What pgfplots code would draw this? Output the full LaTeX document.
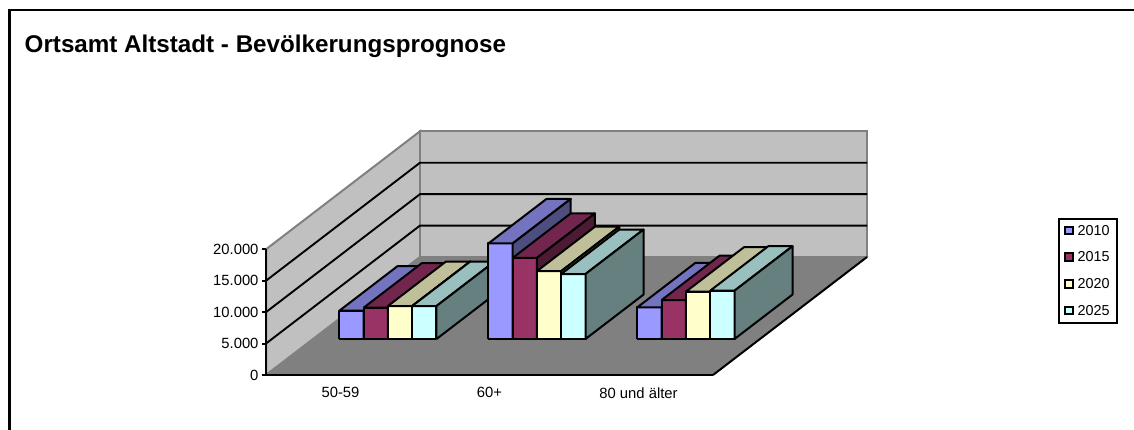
\documentclass[border=0pt]{standalone}
\usepackage{pgfplots}
\pgfplotsset{compat=1.18}
\usepackage{fontspec}
\setmainfont{Liberation Sans}
\definecolor{fA}{HTML}{9999FF}\definecolor{tA}{HTML}{7373BF}\definecolor{sA}{HTML}{4D4D80}
\definecolor{fB}{HTML}{993366}\definecolor{tB}{HTML}{73264D}\definecolor{sB}{HTML}{4D1A33}
\definecolor{fC}{HTML}{FFFFCC}\definecolor{tC}{HTML}{BFBF99}\definecolor{sC}{HTML}{808066}
\definecolor{fD}{HTML}{CCFFFF}\definecolor{tD}{HTML}{99BFBF}\definecolor{sD}{HTML}{668080}
\definecolor{wallc}{HTML}{C0C0C0}\definecolor{floorc}{HTML}{808080}
% one 3D bar: x0, x1, height in thousands, colour suffix
\newcommand\tbar[4]{%
 \addplot3[draw=black,line width=2pt,line join=round,fill=f#4,mark=none] coordinates {(#1,0.305,0) (#2,0.305,0) (#2,0.305,#3) (#1,0.305,#3) (#1,0.305,0)};
 \addplot3[draw=black,line width=2pt,line join=round,fill=t#4,mark=none] coordinates {(#1,0.305,#3) (#2,0.305,#3) (#2,0.682,#3) (#1,0.682,#3) (#1,0.305,#3)};
 \addplot3[draw=black,line width=2pt,line join=round,fill=s#4,mark=none] coordinates {(#2,0.305,0) (#2,0.682,0) (#2,0.682,#3) (#2,0.305,#3) (#2,0.305,0)};
}
\begin{document}
\begin{tikzpicture}[x=1pt,y=1pt]
\path[use as bounding box,fill=white] (0,0) rectangle (1134,430);
\draw[line width=2.6pt] (9.2,0) -- (9.2,420) -- (1134,420);
\node[anchor=base west,inner sep=0pt,font=\fontsize{24.2}{28}\selectfont\bfseries] at (24.5,377.3) {Ortsamt Altstadt - Bevölkerungsprognose};
\begin{axis}[
  at={(266pt,55pt)},anchor=origin,hide axis,clip=false,
  x={(149pt,0pt)},y={(154pt,118pt)},z={(0pt,6.285pt)},
  xmin=0,xmax=3,ymin=0,ymax=1,zmin=0,zmax=20]
 % floor and walls
 \addplot3[draw=floorc,fill=floorc,line width=1pt,mark=none] coordinates {(0,0,0) (3,0,0) (3,1,0) (0,1,0) (0,0,0)};
 \addplot3[draw=floorc,fill=wallc,line width=2pt,mark=none] coordinates {(0,0,0) (0,1,0) (0,1,20) (0,0,20) (0,0,0)};
 \addplot3[draw=floorc,fill=wallc,line width=2pt,mark=none] coordinates {(0,1,0) (3,1,0) (3,1,20) (0,1,20) (0,1,0)};
 % grid lines
 \addplot3[black,line width=1.9pt,mark=none] coordinates {(0,0,5) (0,1,5) (3,1,5)};
 \addplot3[black,line width=1.9pt,mark=none] coordinates {(0,0,10) (0,1,10) (3,1,10)};
 \addplot3[black,line width=1.9pt,mark=none] coordinates {(0,0,15) (0,1,15) (3,1,15)};
 % right floor edge
 \addplot3[black,line width=2pt,mark=none] coordinates {(3,0,0) (3,1,0)};
 % 50-59
 \tbar{0.177}{0.340}{4.5}{A}
 \tbar{0.340}{0.503}{4.98}{B}
 \tbar{0.503}{0.666}{5.25}{C}
 \tbar{0.666}{0.829}{5.25}{D}
 % 60+
 \tbar{1.177}{1.340}{15.2}{A}
 \tbar{1.340}{1.503}{12.9}{B}
 \tbar{1.503}{1.666}{10.8}{C}
 \tbar{1.666}{1.829}{10.34}{D}
 % 80 und aelter
 \tbar{2.177}{2.340}{5.04}{A}
 \tbar{2.340}{2.503}{6.2}{B}
 \tbar{2.503}{2.666}{7.53}{C}
 \tbar{2.666}{2.829}{7.69}{D}
\end{axis}
\begin{axis}[
  at={(266pt,55pt)},anchor=south west,scale only axis,
  width=447pt,height=125.7pt,
  xmin=0,xmax=3,ymin=0,ymax=20000,
  axis x line*=bottom,axis y line*=left,
  axis line style={line width=2pt},
  tick style={black,line width=2pt},
  tick align=outside,
  major tick length=4pt,
  xtick={0.5,1.5,2.5},xticklabels={50-59,60+,80 und älter},
  x tick style={draw=none},
  extra x ticks={0,1,2,3},extra x tick labels={},
  extra x tick style={tick style={draw=black,line width=2pt}},
  ytick={0,5000,10000,15000,20000},
  scaled y ticks=false,
  /pgf/number format/.cd,1000 sep={.},assume math mode=true,/pgfplots/.cd,
  tick label style={font=\fontsize{14.8}{16}\selectfont},
  xticklabel style={yshift=-5pt},
  legend style={at={(1.7718,1.249)},anchor=north west,draw=black,line width=2pt,
    font=\fontsize{14.4}{16}\selectfont,row sep=11.1pt,inner xsep=5pt,inner ysep=4pt,
    cells={anchor=west}},
  legend image code/.code={\draw[#1,line width=2pt] (0pt,-3.5pt) rectangle (7.5pt,4pt);},
]
 \addlegendimage{fill=fA,draw=black}\addlegendentry{\hspace{2pt}2010\hspace{4pt}}
 \addlegendimage{fill=fB,draw=black}\addlegendentry{\hspace{2pt}2015\hspace{4pt}}
 \addlegendimage{fill=fC,draw=black}\addlegendentry{\hspace{2pt}2020\hspace{4pt}}
 \addlegendimage{fill=fD,draw=black}\addlegendentry{\hspace{2pt}2025\hspace{4pt}}
\end{axis}
\end{tikzpicture}
\end{document}
